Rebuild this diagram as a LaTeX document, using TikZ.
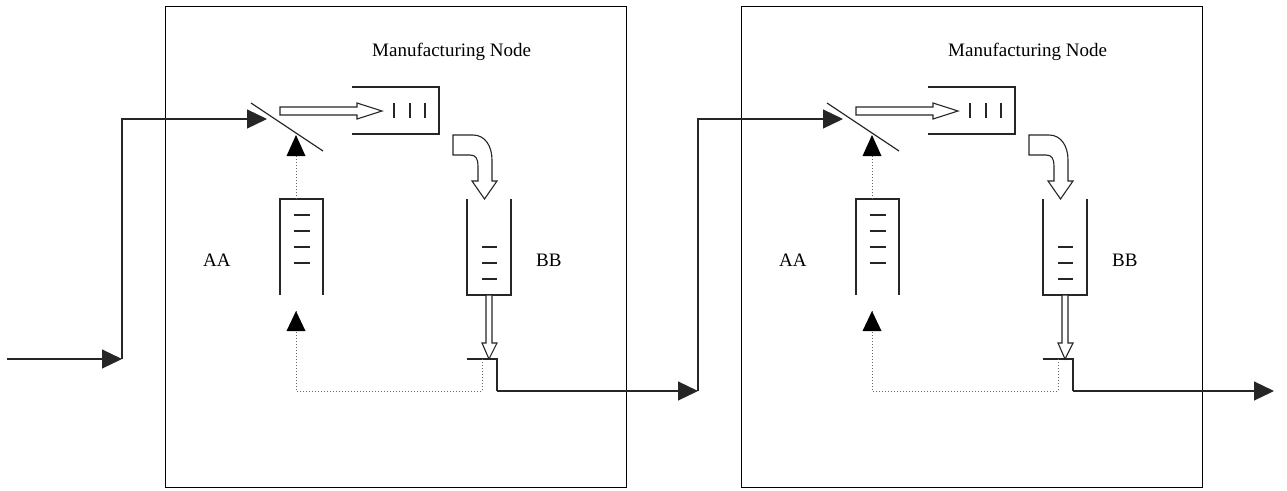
\documentclass[tikz,border=0pt]{standalone}
\usepackage{fontspec}
\setmainfont{Liberation Serif}
\usetikzlibrary{arrows.meta}
\begin{document}
\begin{tikzpicture}[x=1pt,y=-1pt,
  ln/.style={draw=black!85, line width=1.2pt},
  dotln/.style={draw=black!60, line width=1pt, dotted},
  tri/.style={-{Triangle[length=20pt,width=19pt]}},
  hollow/.style={draw=black!85, fill=white, line width=1.1pt, line join=miter},
  lbl/.style={font=\fontsize{19}{22}\selectfont, inner sep=0pt, anchor=base west},
  mbox/.style={draw=black, line width=1.2pt, minimum width=461pt, minimum height=481pt, inner sep=0pt, anchor=north west}
]
\useasboundingbox (0,0) rectangle (1287,490);

% input
\coordinate (in0) at (7,359);
\coordinate (in1) at (122,359);
\coordinate (in2) at (122,119);

\foreach \i/\dx in {1/0,2/576}{
\begin{scope}[xshift=\dx pt]
  \node[mbox] (box\i) at (165,6) {};
  \node[lbl] (title\i) at (372,56) {Manufacturing Node};
  \node[lbl] (aa\i) at (203,266) {AA};
  \node[lbl] (bb\i) at (536,266) {BB};
  % switch
  \coordinate (swA\i) at (251,103);
  \coordinate (swB\i) at (323,151);
  \draw[ln] (swA\i) -- (swB\i);
  \coordinate (swin\i) at (267,119);
  \coordinate (swup\i) at (296,135);
  % horizontal queue (open left)
  \coordinate (hq\i) at (352,87);
  \draw[ln] (hq\i) -- ++(87,0) -- ++(0,47) -- ++(-87,0);
  \foreach \bx in {394,410,425} \draw[ln] (\bx,103) -- (\bx,118);
  % hollow arrow switch -> queue
  \draw[hollow] (280,107) -- (357,107) -- (357,103) -- (382,111) -- (357,119) -- (357,115) -- (280,115) -- cycle;
  % curved hollow arrow
  \draw[hollow] (453,135) -- (473,135) .. controls (485,135) and (492,146) .. (492,160) -- (492,181) -- (497,181) -- (484.5,199) -- (472,181) -- (478,181) -- (478,166) .. controls (478,159) and (476,155) .. (470,155) -- (453,155) -- cycle;
  % queue AA (open bottom)
  \coordinate (qa\i) at (280,199);
  \draw[ln] (280,295) -- (qa\i) -- (323,199) -- (323,295);
  \foreach \dy in {215,231,247,263} \draw[ln] (294,\dy) -- (310,\dy);
  % queue BB (open top)
  \coordinate (qb\i) at (467,199);
  \draw[ln] (qb\i) -- (467,295) -- (511,295) -- (511,199);
  \foreach \dy in {247,263,279} \draw[ln] (482,\dy) -- (497,\dy);
  % hollow down arrow
  \draw[hollow] (486,295) -- (492,295) -- (492,343) -- (497,343) -- (489,359) -- (482,343) -- (486,343) -- cycle;
  % gate
  \coordinate (g0\i) at (467,359);
  \coordinate (g1\i) at (497,359);
  \coordinate (g2\i) at (497,391);
  \draw[ln] (g0\i) -- (g1\i) -- (g2\i);
  % dotted feedback
  \coordinate (d0\i) at (482,359);
  \coordinate (d1\i) at (482,391);
  \coordinate (d2\i) at (296,391);
  \coordinate (d3\i) at (296,311);
  \coordinate (qatop\i) at (296,199);
  \draw[dotln] (d0\i) -- (d1\i) -- (d2\i) -- (d3\i);
  \draw[ln, draw=none, fill=black] (d3\i) ++(0,0) -- ++(-9.5,20) -- ++(19,0) -- cycle;
  \draw[dotln] (qatop\i) -- (296,156);
  \draw[ln, draw=none, fill=black] (swup\i) -- ++(-9.5,21) -- ++(19,0) -- cycle;
  \coordinate (out\i) at (698,391);
\end{scope}
}

\draw[ln, tri] (in0) -- (in1);
\draw[ln, tri] (in1) -- (in2) -- (swin1);
\draw[ln, tri] (g21) -- (out1);
\draw[ln, tri] (out1) -- (698,119) -- (swin2);
\draw[ln, tri] (g22) -- (out2);
\end{tikzpicture}
\end{document}
